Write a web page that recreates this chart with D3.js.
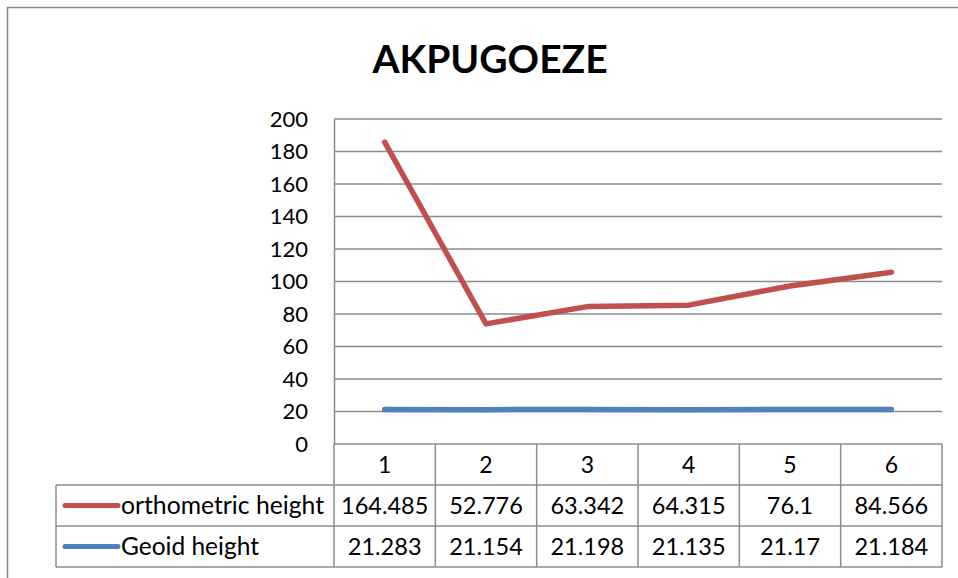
<!DOCTYPE html>
<html>
<head>
<meta charset="utf-8">
<script src="https://cdn.jsdelivr.net/npm/d3@7"></script>
<style>
  body { margin: 0; background: #fff; }
  text { font-family: Lato, "Open Sans", sans-serif; fill: #000; }
</style>
</head>
<body>
<div id="container"></div>
<script>
var width = 958;
var height = 578;

var categories = ["1", "2", "3", "4", "5", "6"];
var orthometric = [164.485, 52.776, 63.342, 64.315, 76.1, 84.566];
var geoid = [21.283, 21.154, 21.198, 21.135, 21.17, 21.184];
var orthoLabels = ["164.485", "52.776", "63.342", "64.315", "76.1", "84.566"];
var geoidLabels = ["21.283", "21.154", "21.198", "21.135", "21.17", "21.184"];
var yTicks = [0, 20, 40, 60, 80, 100, 120, 140, 160, 180, 200];

var plotLeft = 334, plotRight = 942, plotTop = 119, plotBottom = 444;
var rowH = 41;
var tableLeft = 56;

// excel stacked line: geoid at bottom, orthometric on top of it
var rows = categories.map(function(c, i) {
    return { cat: c, geoid: geoid[i], ortho: orthometric[i] };
});
var stacked = d3.stack().keys(["geoid", "ortho"])(rows);

var x = d3.scaleBand().domain(categories).range([plotLeft, plotRight]);
var y = d3.scaleLinear().domain([0, 200]).range([plotBottom, plotTop]);

var svg = d3.create("svg")
    .attr("width", width)
    .attr("height", height);

// outer frame
svg.append("rect")
    .attr("x", 7.5).attr("y", 7.5)
    .attr("width", width + 10).attr("height", height + 10)
    .attr("fill", "none").attr("stroke", "#898989").attr("stroke-width", 1.5);

svg.append("text")
    .attr("x", 490).attr("y", 73)
    .attr("text-anchor", "middle")
    .attr("font-size", 39).attr("font-weight", "bold")
    .text("AKPUGOEZE");

// gridlines
svg.append("g").selectAll("line").data(yTicks).enter().append("line")
    .attr("x1", plotLeft).attr("x2", plotRight)
    .attr("y1", function(d) { return y(d); })
    .attr("y2", function(d) { return y(d); })
    .attr("stroke", "#8c8c8c").attr("stroke-width", 1.5);

var yAxis = svg.append("g")
    .attr("transform", "translate(" + plotLeft + ",0)")
    .call(d3.axisLeft(y).tickValues(yTicks).tickSize(0).tickPadding(26));
yAxis.select(".domain").attr("stroke", "#8c8c8c").attr("stroke-width", 1.5);
yAxis.selectAll("text").attr("font-size", 22).attr("font-family", "Lato, sans-serif");

// data table
var tableRows = [
    { label: "orthometric height", values: orthoLabels, color: "#C0504D" },
    { label: "Geoid height", values: geoidLabels, color: "#4F81BD" }
];
var tbl = svg.append("g");
var lineColor = "#8c8c8c";

[1, 2, 3].forEach(function(k) {
    tbl.append("line").attr("x1", tableLeft).attr("x2", plotRight)
        .attr("y1", plotBottom + rowH * k).attr("y2", plotBottom + rowH * k)
        .attr("stroke", lineColor).attr("stroke-width", 1.5);
});
tbl.append("line").attr("x1", tableLeft).attr("x2", tableLeft)
    .attr("y1", plotBottom + rowH).attr("y2", plotBottom + rowH * 3)
    .attr("stroke", lineColor).attr("stroke-width", 1.5);

var bounds = categories.map(function(c) { return x(c); }).concat([plotRight]);
tbl.selectAll(".vline").data(bounds).enter().append("line")
    .attr("class", "vline")
    .attr("x1", function(d) { return d; }).attr("x2", function(d) { return d; })
    .attr("y1", plotBottom).attr("y2", plotBottom + rowH * 3)
    .attr("stroke", lineColor).attr("stroke-width", 1.5);

tbl.selectAll(".cat").data(categories).enter().append("text")
    .attr("class", "cat")
    .attr("x", function(d) { return x(d) + x.bandwidth() / 2; })
    .attr("y", plotBottom + rowH / 2 + 8)
    .attr("text-anchor", "middle").attr("font-size", 23)
    .text(function(d) { return d; });

tableRows.forEach(function(r, ri) {
    var cy = plotBottom + rowH * (ri + 1) + rowH / 2;
    tbl.append("line")
        .attr("x1", 65).attr("x2", 118).attr("y1", cy).attr("y2", cy)
        .attr("stroke", r.color).attr("stroke-width", 5).attr("stroke-linecap", "round");
    tbl.append("text")
        .attr("x", 121).attr("y", cy + 8)
        .attr("font-size", 24.5).attr("textLength", 203).attr("lengthAdjust", "spacingAndGlyphs")
        .text(r.label)
        .attr("textLength", ri == 0 ? 203 : null);
    tbl.selectAll(".v" + ri).data(r.values).enter().append("text")
        .attr("class", "v" + ri)
        .attr("x", function(d, i) { return x(categories[i]) + x.bandwidth() / 2; })
        .attr("y", cy + 8)
        .attr("text-anchor", "middle").attr("font-size", 23.5)
        .text(function(d) { return d; });
});

// series lines
var seriesColor = { geoid: "#4F81BD", ortho: "#C0504D" };
var line = d3.line()
    .x(function(d) { return x(d.data.cat) + x.bandwidth() / 2; })
    .y(function(d) { return y(d[1]); });

svg.append("g").selectAll("path").data(stacked).enter().append("path")
    .attr("d", line)
    .attr("fill", "none")
    .attr("stroke", function(s) { return seriesColor[s.key]; })
    .attr("stroke-width", 5.5)
    .attr("stroke-linecap", "round")
    .attr("stroke-linejoin", "round");

container.append(svg.node());
</script>
</body>
</html>
